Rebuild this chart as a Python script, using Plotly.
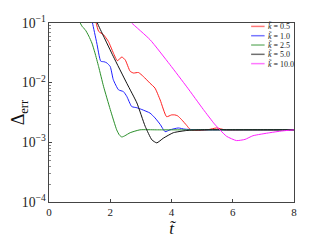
import plotly.graph_objects as go

# ---- data ----
t_k05 = [1.50, 1.54, 1.62, 1.70, 1.78, 1.94, 2.10, 2.23, 2.38, 2.49, 2.65, 2.76, 2.92, 3.08,
         3.30, 3.46, 3.63, 3.84, 4.00, 4.11, 4.20, 4.33, 4.50, 4.60, 4.75, 4.93, 5.20, 5.47,
         5.75, 6.5, 8.0]
d_k05 = [0.126, 0.1, 0.0724, 0.0676, 0.0637, 0.049, 0.0316, 0.0234, 0.0269, 0.024, 0.0155,
         0.0145, 0.0148, 0.0127, 0.00977, 0.00813, 0.00513, 0.00269, 0.00288, 0.00288,
         0.00278, 0.0024, 0.00191, 0.00166, 0.00159, 0.00158, 0.00163, 0.00174, 0.00162,
         0.00162, 0.00162]

t_k10 = [1.38, 1.42, 1.56, 1.69, 1.80, 1.89, 2.00, 2.10, 2.27, 2.43, 2.54, 2.70, 2.87, 3.03,
         3.30, 3.46, 3.63, 3.79, 3.95, 4.22, 4.44, 5.0, 6.0, 7.0, 8.0]
d_k10 = [0.126, 0.1, 0.0462, 0.0229, 0.0224, 0.0214, 0.0186, 0.0112, 0.00759, 0.00708,
         0.00589, 0.00398, 0.0038, 0.00355, 0.00309, 0.00257, 0.002, 0.00151, 0.00162,
         0.00174, 0.00166, 0.00162, 0.00162, 0.00162, 0.00162]

t_k25 = [0.98, 1.02, 1.10, 1.18, 1.30, 1.40, 1.50, 1.62, 1.78, 2.00, 2.21, 2.30, 2.38, 2.48,
         2.65, 2.97, 3.5, 4.0, 5.0, 6.0, 7.0, 8.0]
d_k25 = [0.126, 0.1, 0.0851, 0.0776, 0.0603, 0.0462, 0.0316, 0.0186, 0.00871, 0.00355,
         0.00162, 0.00132, 0.00123, 0.00129, 0.00145, 0.00162, 0.00162, 0.00162, 0.00162,
         0.00162, 0.00162, 0.00162]

t_k50 = [1.54, 1.58, 1.78, 2.10, 2.54, 2.87, 3.14, 3.36, 3.52, 3.73, 4.06, 4.50, 5.0, 6.0,
         7.0, 8.0]
d_k50 = [0.126, 0.1, 0.0603, 0.0275, 0.00977, 0.00457, 0.00186, 0.0011, 0.00098, 0.00117,
         0.00145, 0.00158, 0.00162, 0.00162, 0.00162, 0.00162]

t_k100 = [2.65, 2.70, 3.30, 3.95, 4.50, 5.04, 5.40, 5.58, 5.80, 6.12, 6.40, 6.66, 7.21, 7.6,
          8.0]
d_k100 = [0.107, 0.1, 0.0525, 0.02, 0.00851, 0.00355, 0.00204, 0.00162, 0.00126, 0.00107,
          0.00112, 0.00129, 0.00145, 0.00155, 0.00162]

labels = ["k̃ = 0.5", "k̃ = 1.0", "k̃ = 2.5", "k̃ = 5.0", "k̃ = 10.0"]
colors = ["#ff2020", "#2020ff", "#2a8f2a", "#111111", "#ff20ff"]
series_t = [t_k05, t_k10, t_k25, t_k50, t_k100]
series_d = [d_k05, d_k10, d_k25, d_k50, d_k100]

x_ticks = [0, 2, 4, 6, 8]

font_family = "Liberation Serif"
fig = go.Figure()
for t, d, c, lab in zip(series_t, series_d, colors, labels):
    fig.add_trace(go.Scatter(x=t, y=d, mode="lines", name=lab,
                             line=dict(color=c, width=1, shape="spline", smoothing=0.5),
                             showlegend=False))

# compact legend drawn in paper coordinates
leg_y = [0.981, 0.929, 0.877, 0.825, 0.773]
for lab, c, yy in zip(labels, colors, leg_y):
    fig.add_shape(type="line", xref="paper", yref="paper", x0=0.825, x1=0.880, y0=yy, y1=yy,
                  line=dict(color=c, width=1.5), opacity=0.6)
    k, rest = lab.split(" = ")
    fig.add_annotation(xref="paper", yref="paper", x=0.884, y=yy, xanchor="left",
                       yanchor="middle", showarrow=False,
                       text="<i>" + k + "</i> = " + rest,
                       font=dict(family=font_family, size=8, color="#222"))

axis_common = dict(showline=True, linecolor="#444", linewidth=1, mirror=True,
                   ticks="inside", ticklen=3, tickcolor="#444", showgrid=False,
                   zeroline=False, automargin=False,
                   tickfont=dict(family=font_family, size=11, color="#222"))

fig.update_xaxes(range=[0, 8], tickvals=x_ticks, ticktext=[str(v) for v in x_ticks],
                 title=dict(text="<i>t̃</i>", font=dict(family=font_family, size=17, color="#111"),
                            standoff=4),
                 **axis_common)
fig.update_yaxes(type="log", range=[-4, -1], dtick=1, exponentformat="power",
                 minor=dict(ticks="inside", ticklen=2, tickcolor="#888", showgrid=False),
                 title=dict(text="Δ<sub>err</sub>",
                            font=dict(family=font_family, size=18, color="#111"), standoff=6),
                 **axis_common)

# the page body adds an 8px offset, so margins are shifted accordingly
fig.update_layout(width=332, height=249, margin=dict(l=41, r=46, t=15, b=55),
                  plot_bgcolor="white", paper_bgcolor="white",
                  font=dict(family=font_family))
fig.write_html("out.html")
